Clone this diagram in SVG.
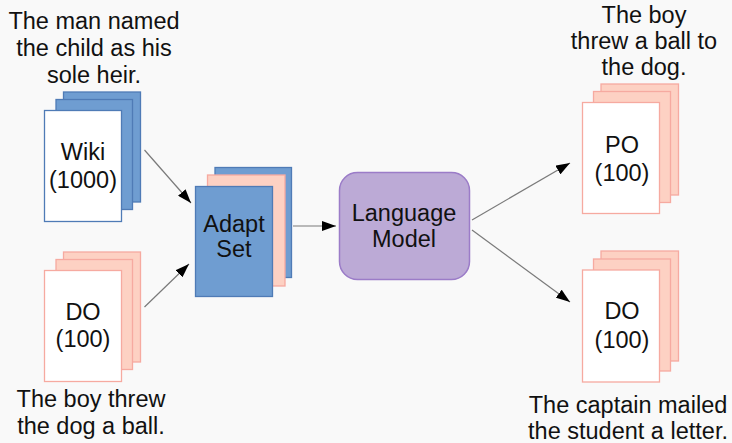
<svg xmlns="http://www.w3.org/2000/svg" width="732" height="443" viewBox="0 0 732 443">
  <defs>
    <marker id="arrow" viewBox="0 0 14 10" refX="14" refY="5" markerWidth="14" markerHeight="10" markerUnits="userSpaceOnUse" orient="auto">
      <path d="M0,0 L14,5 L0,10 z" fill="#000"/>
    </marker>
  </defs>
  <style>
    text { font-family: "Liberation Sans", Arial, sans-serif; font-size: 23.5px; fill: #111; text-anchor: middle; }
    .blue { fill: #6f9dd1; stroke: #4f7bb6; stroke-width: 1.3; }
    .pink { fill: #fdd1c3; stroke: #f6aaa0; stroke-width: 1.3; }
    .white-b { fill: #fff; stroke: #4f7bb6; stroke-width: 1.3; }
    .white-p { fill: #fff; stroke: #f6aaa0; stroke-width: 1.3; }
    .lm { fill: #bcaad6; stroke: #9b7cc8; stroke-width: 1.5; }
    .conn { stroke: #7a7a7a; stroke-width: 1.2; fill: none; marker-end: url(#arrow); }
  </style>
  <rect width="732" height="443" fill="#f9f9f9"/>

  <!-- example sentences -->
  <g id="captions">
    <text x="94" y="29">The man named</text>
    <text x="94" y="56">the child as his</text>
    <text x="94" y="83">sole heir.</text>
    <text x="91" y="407">The boy threw</text>
    <text x="91" y="434">the dog a ball.</text>
    <text x="644" y="23">The boy</text>
    <text x="644" y="49">threw a ball to</text>
    <text x="644" y="75">the dog.</text>
    <text x="628" y="413">The captain mailed</text>
    <text x="628" y="439">the student a letter.</text>
  </g>

  <!-- Wiki corpus stack -->
  <g id="wiki">
    <rect class="blue" x="63.5" y="92" width="77" height="110"/>
    <rect class="blue" x="56" y="99.5" width="76.5" height="110"/>
    <rect class="white-b" x="44.5" y="110.5" width="77" height="111"/>
    <text x="83" y="160">Wiki</text>
    <text x="83" y="188">(1000)</text>
  </g>

  <!-- DO corpus stack (left) -->
  <g id="do-left">
    <rect class="pink" x="63.5" y="252" width="77" height="110"/>
    <rect class="pink" x="56" y="259.5" width="76.5" height="110"/>
    <rect class="white-p" x="44.5" y="270.5" width="77" height="111"/>
    <text x="83" y="320">DO</text>
    <text x="83" y="347">(100)</text>
  </g>

  <!-- Adapt set stack -->
  <g id="adapt">
    <rect class="blue" x="215" y="167.5" width="76.5" height="110"/>
    <rect class="pink" x="207.5" y="175" width="77.5" height="111"/>
    <rect class="blue" x="195.5" y="186.5" width="77" height="110"/>
    <text x="234" y="232">Adapt</text>
    <text x="234" y="257">Set</text>
  </g>

  <!-- Language model -->
  <g id="language-model">
    <rect class="lm" x="339.5" y="172.5" width="130" height="107" rx="18" ry="18"/>
    <text x="404" y="221">Language</text>
    <text x="404" y="247">Model</text>
  </g>

  <!-- PO test stack -->
  <g id="po">
    <rect class="pink" x="601" y="84" width="77.5" height="111"/>
    <rect class="pink" x="593.5" y="91.5" width="77" height="111"/>
    <rect class="white-p" x="582.5" y="102.5" width="77" height="111"/>
    <text x="622" y="153">PO</text>
    <text x="622" y="181">(100)</text>
  </g>

  <!-- DO test stack (right) -->
  <g id="do-right">
    <rect class="pink" x="601" y="251" width="77.5" height="110"/>
    <rect class="pink" x="593.5" y="259" width="77" height="112"/>
    <rect class="white-p" x="582.5" y="270" width="77" height="112"/>
    <text x="622" y="319">DO</text>
    <text x="622" y="348">(100)</text>
  </g>

  <g id="connectors">
    <line class="conn" x1="144.5" y1="150" x2="191" y2="203"/>
    <line class="conn" x1="144.5" y1="307" x2="189" y2="264"/>
    <line class="conn" x1="293" y1="226" x2="336" y2="226"/>
    <line class="conn" x1="472" y1="220" x2="570" y2="163"/>
    <line class="conn" x1="472" y1="230" x2="570" y2="302"/>
  </g>
</svg>
